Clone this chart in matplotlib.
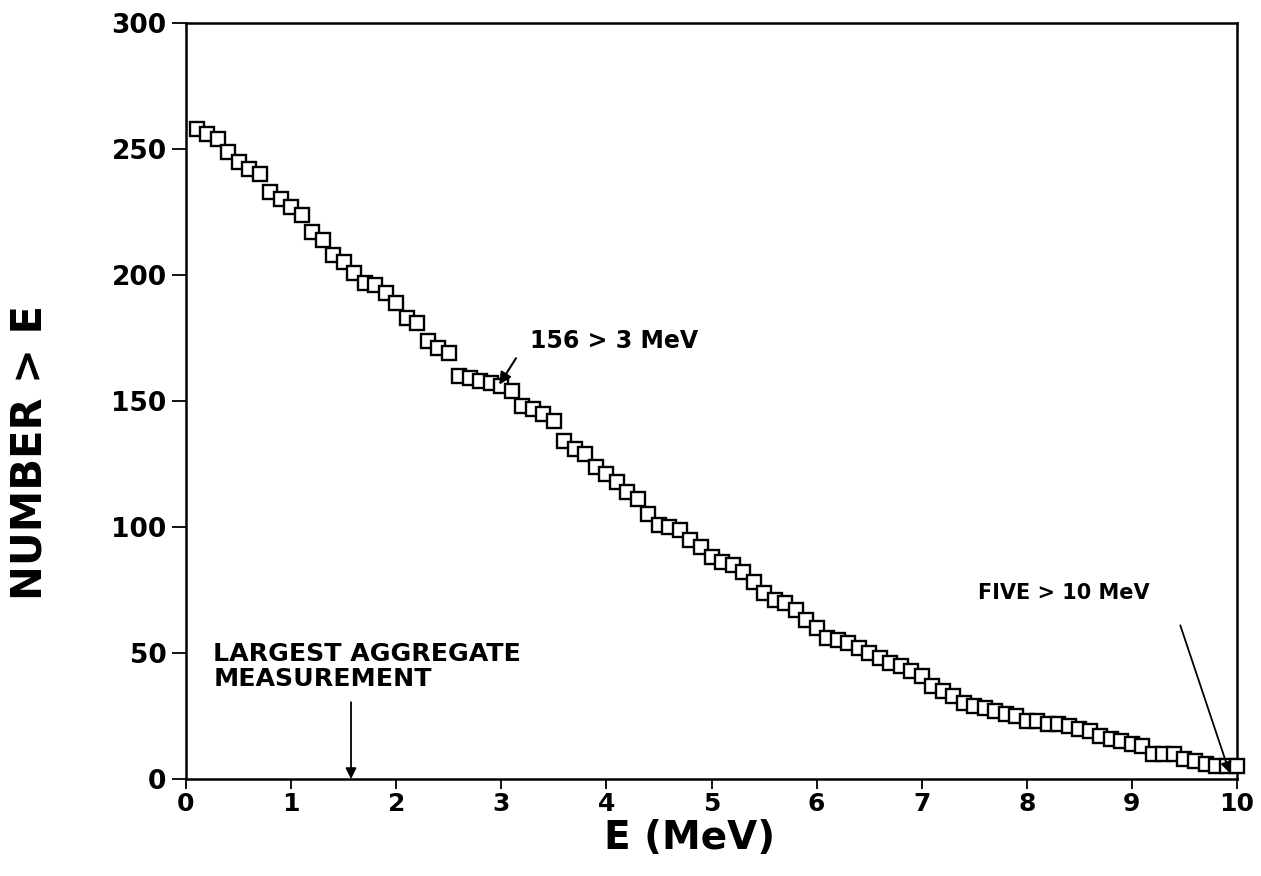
import matplotlib
matplotlib.use("Agg")
import matplotlib.pyplot as plt
import numpy as np

energy_mev = [round(0.1 * i, 1) for i in range(1, 101)]
number_above = [
    258, 256, 254, 249, 245, 242, 240, 233, 230, 227,
    224, 217, 214, 208, 205, 201, 197, 196, 193, 189,
    183, 181, 174, 171, 169, 160, 159, 158, 157, 156,
    154, 148, 147, 145, 142, 134, 131, 129, 124, 121,
    118, 114, 111, 105, 101, 100, 99, 95, 92, 88,
    86, 85, 82, 78, 74, 71, 70, 67, 63, 60,
    56, 55, 54, 52, 50, 48, 46, 45, 43, 41,
    37, 35, 33, 30, 29, 28, 27, 26, 25, 23,
    23, 22, 22, 21, 20, 19, 17, 16, 15, 14,
    13, 10, 10, 10, 8, 7, 6, 5, 5, 5,
]
x_ticks = list(range(0, 11))
y_ticks = [0, 50, 100, 150, 200, 250, 300]

plt.rcParams['font.family'] = ['DejaVu Sans']

fig = plt.figure(figsize=(12.61, 8.76), dpi=100)
ax = fig.add_axes([0.1475, 0.1107, 0.8335, 0.863])

ax.plot(energy_mev, number_above, linestyle='none', marker='s', markersize=9.5,
        markerfacecolor='white', markeredgecolor='black', markeredgewidth=1.7,
        clip_on=False, zorder=3)

ax.set_xlim(0, 10)
ax.set_ylim(0, 300)
ax.set_xticks(x_ticks)
ax.set_yticks(y_ticks)
ax.tick_params(axis='y', direction='out', length=10, width=1.3, labelsize=19, pad=4)
ax.tick_params(axis='x', direction='out', length=7, width=1.3, labelsize=18, pad=2)
for lab in ax.get_xticklabels() + ax.get_yticklabels():
    lab.set_fontweight('bold')
for s in ax.spines.values():
    s.set_linewidth(1.8)

fig.text(690 / 1261, 1 - 838 / 876, 'E (MeV)', fontsize=28, fontweight='bold',
         ha='center', va='center')
fig.text(30 / 1261, 1 - 452 / 876, 'NUMBER > E', rotation=90, fontsize=30,
         fontweight='bold', ha='center', va='center')

ax.text(3.27, 174, '156 > 3 MeV', fontsize=17, fontweight='bold',
        va='center', ha='left')
ax.annotate('', xy=(2.98, 156.5), xytext=(3.14, 167),
            arrowprops=dict(arrowstyle='-|>', color='black', lw=1.5,
                            mutation_scale=18, shrinkA=0, shrinkB=0))
ax.text(7.54, 74, 'FIVE > 10 MeV', fontsize=15, fontweight='bold',
        va='center', ha='left')
ax.annotate('', xy=(9.93, 2.4), xytext=(9.46, 61),
            arrowprops=dict(arrowstyle='-|>', color='black', lw=1.3,
                            mutation_scale=16, shrinkA=0, shrinkB=0))
ax.text(0.26, 44.5, 'LARGEST AGGREGATE\nMEASUREMENT', fontsize=18.2,
        fontweight='bold', va='center', ha='left', linespacing=1.05)
ax.annotate('', xy=(1.57, 0), xytext=(1.57, 30.5),
            arrowprops=dict(arrowstyle='-|>', color='black', lw=1.3,
                            mutation_scale=16, shrinkA=0, shrinkB=0))

fig.savefig('out.png', dpi=100)
